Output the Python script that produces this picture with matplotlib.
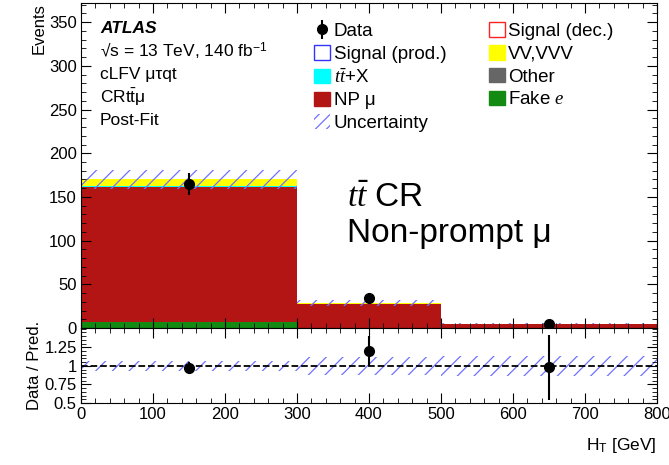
import numpy as np
import matplotlib
matplotlib.use('Agg')
import matplotlib.pyplot as plt
from matplotlib.patches import Patch
from matplotlib.ticker import MultipleLocator, FixedLocator, FixedFormatter

plt.rcParams.update({
    'font.family': 'Liberation Sans',
    'mathtext.fontset': 'custom',
    'mathtext.rm': 'Liberation Sans',
    'mathtext.it': 'Liberation Serif:italic',
    'mathtext.bf': 'Liberation Sans:bold',
    'hatch.linewidth': 0.9,
})

# H_T binning and post-fit yields
edges = np.array([0, 300, 500, 800])
other = np.array([0.5, 0.1, 0.1])
fake_e = np.array([6.5, 0.0, 0.2])
np_mu = np.array([154.0, 27.3, 4.4])
ttx = np.array([1.5, 0.5, 0.2])
vv = np.array([7.5, 0.4, 0.2])
unc_rel = np.array([0.067, 0.125, 0.135])
data = np.array([165, 34, 5])

stack = [(other, '#666666', 'Other'),
         (fake_e, '#138a12', 'Fake $e$'),
         (np_mu, '#b31515', 'NP \u03bc'),
         (ttx, '#00ffff', r'$t\bar{t}$+X'),
         (vv, '#ffff00', 'VV,VVV')]

pred = other + fake_e + np_mu + ttx + vv
centers = 0.5 * (edges[1:] + edges[:-1])
widths = np.diff(edges)
hatch_col = '#7070ff'

fig = plt.figure(figsize=(6.69, 4.65), dpi=100)
ax = fig.add_axes([0.121, 0.2946, 0.861, 0.699])
rax = fig.add_axes([0.121, 0.1333, 0.861, 0.1613], sharex=ax)

bottom = np.zeros(len(centers))
for vals, col, lab in stack:
    ax.bar(edges[:-1], vals, width=widths, bottom=bottom, align='edge',
           color=col, linewidth=0)
    bottom += vals

ax.bar(edges[:-1], 2 * unc_rel * pred, width=widths, bottom=pred * (1 - unc_rel),
       align='edge', fill=False, hatch='//', edgecolor=hatch_col, linewidth=0)
eb = ax.errorbar(centers, data, yerr=np.sqrt(data), fmt='o', color='black',
                 markersize=7, elinewidth=1.5, capsize=0, zorder=5)

ax.set_xlim(0, 800)
ax.set_ylim(0, 372)
ax.yaxis.set_major_locator(MultipleLocator(50))
ax.yaxis.set_minor_locator(MultipleLocator(10))
ax.xaxis.set_major_locator(MultipleLocator(100))
ax.xaxis.set_minor_locator(MultipleLocator(20))
ax.set_ylabel('Events', loc='top', fontsize=12, labelpad=2)
plt.setp(ax.get_xticklabels(), visible=False)

for a in (ax, rax):
    a.tick_params(which='both', direction='in', top=True, right=True,
                  labelsize=12, pad=3)
    a.tick_params(which='major', length=7)
    a.tick_params(which='minor', length=3.5)

# labels and region text
ax.text(0.033, 0.923, 'ATLAS', transform=ax.transAxes, fontsize=12.5,
        fontweight='bold', style='italic', va='center')
info = ['\u221As = 13 TeV, 140 fb$^{-1}$', 'cLFV \u03bc\u03c4qt',
        'CRt$\\mathrm{\\bar{t}}$\u03bc', 'Post-Fit']
for i, line in enumerate(info):
    ax.text(0.033, 0.851 - 0.071 * i, line, transform=ax.transAxes,
            fontsize=12.5, va='center')
ax.text(0.462, 0.372, r'$t\bar{t}$ CR', transform=ax.transAxes, fontsize=24)
ax.text(0.462, 0.265, 'Non-prompt \u03bc', transform=ax.transAxes, fontsize=24)

handles = [eb,
           Patch(facecolor='white', edgecolor='#3333ff', linewidth=1),
           Patch(facecolor='#00ffff', edgecolor='#00ffff'),
           Patch(facecolor='#b31515', edgecolor='#b31515'),
           Patch(facecolor='none', edgecolor=hatch_col, hatch='///', linewidth=0),
           Patch(facecolor='white', edgecolor='#ff2222', linewidth=1),
           Patch(facecolor='#ffff00', edgecolor='#ffff00'),
           Patch(facecolor='#666666', edgecolor='#666666'),
           Patch(facecolor='#138a12', edgecolor='#138a12')]
labels = ['Data', 'Signal (prod.)', r'$t\bar{t}$+X', 'NP \u03bc', 'Uncertainty',
          'Signal (dec.)', 'VV,VVV', 'Other', 'Fake $e$']
ax.legend(handles, labels, ncol=2, loc='upper left', bbox_to_anchor=(0.405, 0.94),
          frameon=False, fontsize=13.5, handlelength=0.85, handleheight=0.8,
          handletextpad=0.2, labelspacing=0.27, columnspacing=2.25,
          borderpad=0, borderaxespad=0)

# ratio panel
ratio = data / pred
rax.bar(edges[:-1], 2 * unc_rel, width=widths, bottom=1 - unc_rel, align='edge',
        fill=False, hatch='//', edgecolor=hatch_col, linewidth=0)
rax.axhline(1, color='black', linestyle='--', linewidth=1.3)
rax.errorbar(centers, ratio, yerr=np.sqrt(data) / pred, fmt='o', color='black',
             markersize=7, elinewidth=1.5, capsize=0, zorder=5)
rax.set_ylim(0.5, 1.51)
rax.yaxis.set_major_locator(FixedLocator([0.5, 0.75, 1.0, 1.25]))
rax.yaxis.set_major_formatter(FixedFormatter(['0.5', '0.75', '1', '1.25']))
rax.yaxis.set_minor_locator(MultipleLocator(0.05))
rax.set_ylabel('Data / Pred.', fontsize=12, labelpad=2)
rax.set_xlabel('H$_\\mathrm{T}$ [GeV]', loc='right', fontsize=12.5, labelpad=10)

fig.savefig('out.png', dpi=100)
